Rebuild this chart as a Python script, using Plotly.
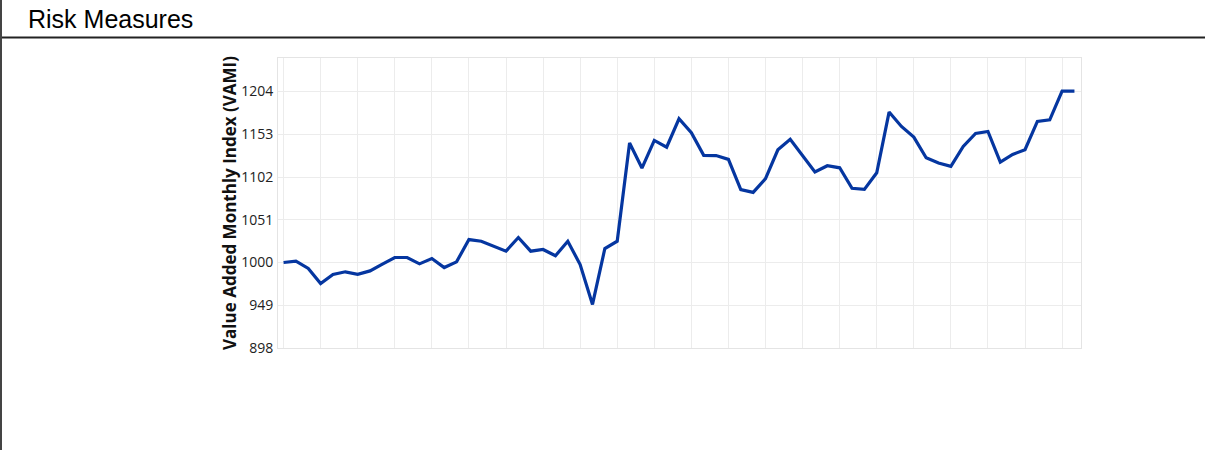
import plotly.graph_objects as go

# Data (monthly VAMI values)
vami = [1000.0, 1001.6, 993.0, 975.0, 985.7, 988.9, 986.0, 990.0, 998.0, 1006.0,
        1006.0, 998.4, 1004.8, 994.0, 1000.8, 1027.4, 1025.4, 1019.8, 1013.5, 1029.8,
        1013.5, 1015.5, 1008.0, 1025.4, 997.6, 950.0, 1016.7, 1025.4, 1142.5, 1112.7,
        1145.7, 1137.5, 1171.5, 1154.8, 1127.8, 1127.6, 1123.0, 1087.0, 1083.7, 1100.0,
        1134.5, 1146.9, 1127.0, 1108.0, 1115.5, 1113.0, 1088.5, 1087.3, 1107.0, 1179.5,
        1162.3, 1149.6, 1125.0, 1118.7, 1114.7, 1138.5, 1154.0, 1156.4, 1119.8, 1129.0,
        1134.6, 1168.3, 1170.3, 1204.4, 1204.4]
months = list(range(len(vami)))
y_ticks = [898, 949, 1000, 1051, 1102, 1153, 1204]

W, H = 1205, 450
L, R, T, B = 278, 124, 58, 102
pw, ph = W - L - R, H - T - B


def px(x):
    return (x - L) / pw


def py(y):
    return 1 - (y - T) / ph


fig = go.Figure()
fig.add_trace(go.Scatter(x=months, y=vami, mode="lines",
                         line=dict(color="#0536a0", width=3.2),
                         hoverinfo="y", showlegend=False))

fig.update_layout(
    width=W, height=H,
    margin=dict(l=L, r=R, t=T, b=B, autoexpand=False),
    paper_bgcolor="white", plot_bgcolor="white",
    font=dict(family="Open Sans", color="#222"),
    xaxis=dict(range=[-0.45, 64.53], dtick=3, tick0=0, showticklabels=False,
               showgrid=True, gridcolor="#ececec", gridwidth=1, zeroline=False,
               showline=True, linecolor="#e4e4e4", linewidth=1, mirror=True),
    yaxis=dict(range=[898, 1244], tickvals=y_ticks, ticktext=[str(v) for v in y_ticks],
               tickfont=dict(family="Open Sans", size=14, color="#222"),
               ticklabelstandoff=1,
               showgrid=True, gridcolor="#ececec", gridwidth=1, zeroline=False,
               showline=True, linecolor="#e4e4e4", linewidth=1, mirror=True,
               title=dict(text="<b>Value Added Monthly Index (VAMI)</b>",
                          font=dict(family="Open Sans", size=17, color="#111"),
                          standoff=0)),
    shapes=[
        dict(type="line", xref="paper", yref="paper", x0=px(0), x1=px(W), y0=py(37.5), y1=py(37.5),
             line=dict(color="#222", width=2)),
        dict(type="line", xref="paper", yref="paper", x0=px(1), x1=px(1), y0=py(0), y1=py(H),
             line=dict(color="#444", width=2)),
    ],
    annotations=[
        dict(text="Risk Measures", xref="paper", yref="paper", x=px(26), y=py(19),
             xanchor="left", yanchor="middle", showarrow=False,
             font=dict(family="Liberation Sans, Arial", size=25, color="#000")),
    ],
)

fig.write_html("out.html", config={"displayModeBar": False},
               post_script="document.body.style.margin='0';document.body.style.padding='0';")
